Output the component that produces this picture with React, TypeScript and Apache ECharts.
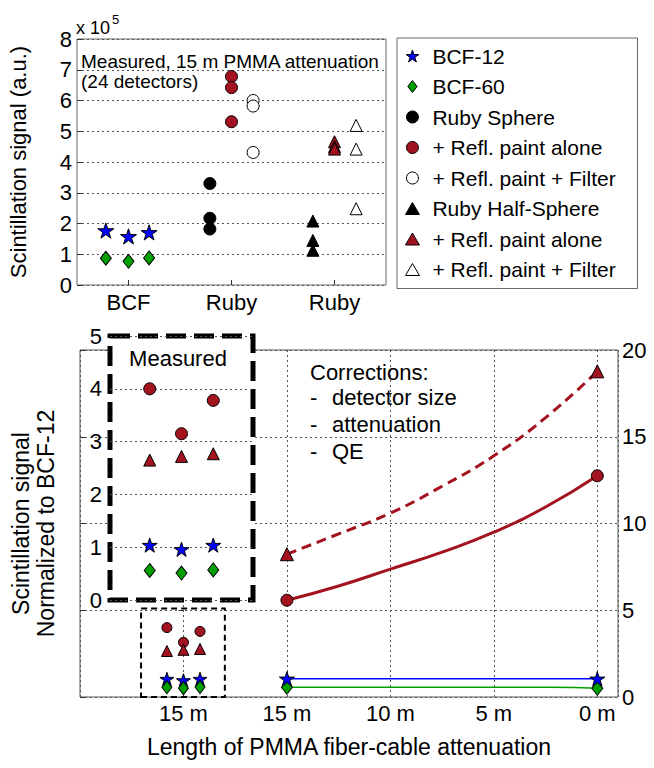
import React, { useEffect, useRef } from "react";
import * as echarts from "echarts";

const FONT = "'Liberation Sans', Arial, Helvetica, sans-serif";
const RED = "#a3121f";
const BLUE = "#0000ff";
const GREEN = "#00a000";
const GRID_LINE = { type: [2, 3], color: "#555", width: 1 };
const STAR =
  "path://M50 0 L61.23 34.55 L97.55 34.55 L68.17 55.9 L79.39 90.45 L50 69.1 L20.61 90.45 L31.83 55.9 L2.45 34.55 L38.77 34.55 Z";
const ICON_DIAMOND = "path://M5 0 L10 6.5 L5 13 L0 6.5 Z";
const ICON_CIRCLE = "path://M50 0 A50 50 0 1 1 49.99 0 Z";
const ICON_TRIANGLE = "path://M5.5 0 L11 9.5 L0 9.5 Z";

// ---------- top chart data (x 10^5) ----------
const topCategories = ["BCF", "Ruby", "Ruby"];
const topGroupPos = [1, 2, 3];
const bcfOffsets = [-0.22, 0, 0.2];
const subOffsets = [-0.21, 0, 0.21];
const bcf12 = [1.77, 1.58, 1.71];
const bcf60 = [0.87, 0.77, 0.88];
const rubySphere = [3.3, 2.17, 1.82];
const rubySpherePaint = [6.78, 6.42, 5.31];
const rubySphereFilter = [6.0, 5.82, 4.31];
const rubyHalf = [2.08, 1.45, 1.13];
const rubyHalfPaint = [4.66, 4.5, 4.42];
const rubyHalfFilter = [5.19, 4.42, 2.48];

const legendNames = [
  "BCF-12",
  "BCF-60",
  "Ruby Sphere",
  "+ Refl. paint alone",
  "+ Refl. paint + Filter",
  "Ruby Half-Sphere",
  "+ Refl. paint alone ",
  "+ Refl. paint + Filter ",
];
const legendIcons = [STAR, ICON_DIAMOND, ICON_CIRCLE, ICON_CIRCLE, ICON_CIRCLE, ICON_TRIANGLE, ICON_TRIANGLE, ICON_TRIANGLE];

// ---------- bottom chart data (normalized to BCF-12) ----------
const bottomTickLabels = ["15 m", "15 m", "10 m", "5 m", "0 m"];
const measuredJitter = [-0.16, 0, 0.16];
const insetPos = [1, 2, 3];
const measuredSpherePaint = [4.0, 3.15, 3.78];
const measuredHalfPaint = [2.65, 2.72, 2.77];
const measuredBCF12 = [1.04, 0.96, 1.04];
const measuredBCF60 = [0.56, 0.51, 0.57];
const smallBoxX = [-0.41, 0.4];
const smallBoxTop = 5.1;

const corrLengths = [15, 12.5, 10, 7.5, 5, 2.5, 0];
const corrSpherePaint = [5.58, 6.4, 7.37, 8.35, 9.5, 10.95, 12.75];
const corrHalfPaint = [8.23, 9.4, 10.6, 12.15, 13.9, 16.1, 18.77];
const corrBCF12Len = [15, 0];
const corrBCF12 = [1.05, 1.05];
const corrBCF60Len = [15, 2.2, 0];
const corrBCF60 = [0.56, 0.56, 0.5];

const lenToPos = (L: number) => 1 + (15 - L) / 5;
const groupPts = (g: number, offs: number[], ys: number[]) => ys.map((y, i) => [g + offs[i], y]);
const lenPts = (ls: number[], ys: number[]) => ys.map((y, i) => [lenToPos(ls[i]), y]);
const endPts = (ls: number[], ys: number[]) => [
  [lenToPos(ls[0]), ys[0]],
  [lenToPos(ls[ls.length - 1]), ys[ys.length - 1]],
];

const black = { borderColor: "#000", borderWidth: 1, opacity: 1 };

function topScatter(name: string, data: number[][], symbol: string, size: any, color: string) {
  return {
    name,
    type: "scatter",
    xAxisIndex: 0,
    yAxisIndex: 0,
    symbol,
    symbolSize: size,
    symbolKeepAspect: symbol === STAR,
    itemStyle: { color, ...black },
    data,
  };
}

function mainScatter(name: string, data: number[][], symbol: string, size: any, color: string, extra: any = {}) {
  return {
    name,
    type: "scatter",
    xAxisIndex: 1,
    yAxisIndex: 1,
    symbol,
    symbolSize: size,
    symbolKeepAspect: symbol === STAR,
    itemStyle: { color, ...black },
    z: 4,
    data,
    ...extra,
  };
}

function insetScatter(name: string, data: number[][], symbol: string, size: any, color: string) {
  return {
    name,
    type: "scatter",
    xAxisIndex: 2,
    yAxisIndex: 3,
    symbol,
    symbolSize: size,
    symbolKeepAspect: symbol === STAR,
    itemStyle: { color, ...black },
    z: 6,
    data,
  };
}

function mainLine(name: string, data: number[][], color: string, width: number, type: any) {
  return {
    name,
    type: "line",
    xAxisIndex: 1,
    yAxisIndex: 1,
    smooth: true,
    symbol: "none",
    lineStyle: { color, width, type },
    z: 3,
    data,
  };
}

const txt = (text: string, x: number, y: number, fontSize: number, align = "left") => ({
  type: "text",
  x,
  y,
  z: 10,
  style: { text, fontSize, fontFamily: FONT, fill: "#000", align, verticalAlign: "middle" },
});

const option: any = {
  animation: false,
  backgroundColor: "#fff",
  textStyle: { fontFamily: FONT },
  legend: {
    data: legendNames.map((name, i) => ({ name, icon: legendIcons[i] })),
    orient: "vertical",
    left: 397,
    top: 38,
    padding: [6, 16, 7, 8],
    itemGap: 6.5,
    itemWidth: 30,
    itemHeight: 12,
    symbolKeepAspect: true,
    borderColor: "#666",
    borderWidth: 1,
    backgroundColor: "#fff",
    selectedMode: false,
    itemStyle: { borderWidth: 1, opacity: 1 },
    textStyle: { fontSize: 21, fontFamily: FONT, color: "#000", lineHeight: 24 },
  },
  grid: [
    { left: 77, top: 39, width: 309, height: 246, show: true, borderColor: "#666", borderWidth: 1, backgroundColor: "transparent" },
    { left: 76, top: 350, width: 542, height: 347, show: true, borderColor: "#555", borderWidth: 1, backgroundColor: "transparent" },
    {
      left: 110,
      top: 336,
      width: 143,
      height: 264,
      show: true,
      backgroundColor: "#fff",
      borderColor: "#000",
      borderWidth: 5,
      borderType: [20, 8],
      z: 3,
    },
  ],
  xAxis: [
    {
      gridIndex: 0,
      type: "value",
      min: 0.5,
      max: 3.5,
      axisLine: { show: false },
      splitLine: { show: false },
      axisTick: { customValues: topGroupPos, inside: true, length: 5, lineStyle: { color: "#333" } },
      axisLabel: {
        customValues: topGroupPos,
        formatter: (v: number) => topCategories[Math.round(v) - 1] ?? "",
        fontSize: 22,
        color: "#000",
        margin: 6,
      },
    },
    {
      gridIndex: 1,
      type: "value",
      min: -1,
      max: 4.2,
      interval: 1,
      axisLine: { show: false },
      axisTick: { show: false },
      splitLine: { show: true, lineStyle: GRID_LINE },
      axisLabel: {
        formatter: (v: number) => {
          const i = Math.round(v);
          return Math.abs(v - i) < 1e-6 && i >= 0 && i < bottomTickLabels.length ? bottomTickLabels[i] : "";
        },
        fontSize: 22,
        color: "#000",
        margin: 5,
      },
      name: "Length of PMMA fiber-cable attenuation",
      nameLocation: "middle",
      nameGap: 38,
      nameTextStyle: { fontSize: 23, color: "#000" },
    },
    { gridIndex: 2, type: "value", min: -0.25, max: 4.25, show: false },
  ],
  yAxis: [
    {
      gridIndex: 0,
      type: "value",
      min: 0,
      max: 8,
      interval: 1,
      axisLine: { show: false },
      axisTick: { inside: true, length: 5, lineStyle: { color: "#333" } },
      splitLine: { lineStyle: GRID_LINE },
      axisLabel: { fontSize: 22, color: "#000", margin: 5 },
      name: "Scintillation signal (a.u.)",
      nameLocation: "middle",
      nameGap: 48,
      nameTextStyle: { fontSize: 22, color: "#000" },
    },
    {
      gridIndex: 1,
      type: "value",
      position: "right",
      min: 0,
      max: 20,
      interval: 5,
      axisLine: { show: false },
      axisTick: { inside: true, length: 5, lineStyle: { color: "#333" } },
      splitLine: { lineStyle: GRID_LINE },
      axisLabel: { fontSize: 22, color: "#000", margin: 4 },
    },
    {
      gridIndex: 1,
      type: "value",
      position: "left",
      min: 0,
      max: 20,
      interval: 5,
      axisLine: { show: false },
      axisTick: { inside: true, length: 5, lineStyle: { color: "#333" } },
      splitLine: { show: false },
      axisLabel: { show: false },
      name: "Scintillation signal\nNormalized to BCF-12",
      nameLocation: "middle",
      nameGap: 22,
      nameTextStyle: { fontSize: 23, lineHeight: 25, color: "#000" },
    },
    {
      gridIndex: 2,
      type: "value",
      min: 0,
      max: 5,
      interval: 1,
      z: 4,
      axisLine: { show: false },
      axisTick: { show: false },
      splitLine: { lineStyle: GRID_LINE },
      axisLabel: { fontSize: 22, color: "#000", margin: 8 },
    },
  ],
  graphic: [
    txt("x 10", 76, 28, 18),
    txt("5", 112, 19, 13),
    txt("Measured, 15 m PMMA attenuation", 81, 61, 19),
    txt("(24 detectors)", 81, 81, 19),
    txt("Corrections:", 310, 372, 22),
    txt("-", 310, 397, 22),
    txt("detector size", 332, 397, 22),
    txt("-", 310, 424, 22),
    txt("attenuation", 332, 424, 22),
    txt("-", 310, 451, 22),
    txt("QE", 332, 451, 22),
    txt("Measured", 178, 358, 22, "center"),
  ],
  series: [
    // top chart
    topScatter(legendNames[0], groupPts(topGroupPos[0], bcfOffsets, bcf12), STAR, 16, BLUE),
    topScatter(legendNames[1], groupPts(topGroupPos[0], bcfOffsets, bcf60), "diamond", [11, 14], GREEN),
    topScatter(legendNames[2], groupPts(topGroupPos[1] + subOffsets[0], [0, 0, 0], rubySphere), "circle", 12, "#000"),
    topScatter(legendNames[3], groupPts(topGroupPos[1] + subOffsets[1], [0, 0, 0], rubySpherePaint), "circle", 12, RED),
    topScatter(legendNames[4], groupPts(topGroupPos[1] + subOffsets[2], [0, 0, 0], rubySphereFilter), "circle", 12, "#fff"),
    topScatter(legendNames[5], groupPts(topGroupPos[2] + subOffsets[0], [0, 0, 0], rubyHalf), "triangle", 12, "#000"),
    topScatter(legendNames[6], groupPts(topGroupPos[2] + subOffsets[1], [0, 0, 0], rubyHalfPaint), "triangle", 12, RED),
    topScatter(legendNames[7], groupPts(topGroupPos[2] + subOffsets[2], [0, 0, 0], rubyHalfFilter), "triangle", 12, "#fff"),

    // bottom main: measured column at 15 m
    mainScatter("m-sphere", groupPts(0, measuredJitter, measuredSpherePaint), "circle", 10, RED),
    mainScatter("m-half", groupPts(0, measuredJitter, measuredHalfPaint), "triangle", 11, RED),
    mainScatter("m-bcf12", groupPts(0, measuredJitter, measuredBCF12), STAR, 14, BLUE, {
      markArea: {
        silent: true,
        itemStyle: { color: "rgba(0,0,0,0)", borderColor: "#000", borderWidth: 2, borderType: [6, 4] },
        data: [[{ coord: [smallBoxX[0], 0] }, { coord: [smallBoxX[1], smallBoxTop] }]],
      },
    }),
    mainScatter("m-bcf60", groupPts(0, measuredJitter, measuredBCF60), "diamond", [10, 13], GREEN),

    // bottom main: corrected curves
    mainLine("c-half", lenPts(corrLengths, corrHalfPaint), RED, 3, [10, 6]),
    mainLine("c-sphere", lenPts(corrLengths, corrSpherePaint), RED, 3, "solid"),
    mainLine("c-bcf12", lenPts(corrBCF12Len, corrBCF12), BLUE, 1.5, "solid"),
    mainLine("c-bcf60", lenPts(corrBCF60Len, corrBCF60), GREEN, 1.5, "solid"),
    mainScatter("c-half-end", endPts(corrLengths, corrHalfPaint), "triangle", 13, RED),
    mainScatter("c-sphere-end", endPts(corrLengths, corrSpherePaint), "circle", 12, RED),
    mainScatter("c-bcf60-end", endPts(corrBCF60Len, corrBCF60), "diamond", [11, 14], GREEN),
    mainScatter("c-bcf12-end", endPts(corrBCF12Len, corrBCF12), STAR, 15, BLUE),

    // inset (0-5 scale)
    insetScatter("i-sphere", groupPts(0, insetPos, measuredSpherePaint), "circle", 12, RED),
    insetScatter("i-half", groupPts(0, insetPos, measuredHalfPaint), "triangle", 12, RED),
    insetScatter("i-bcf12", groupPts(0, insetPos, measuredBCF12), STAR, 15, BLUE),
    insetScatter("i-bcf60", groupPts(0, insetPos, measuredBCF60), "diamond", [11, 14], GREEN),
  ],
};

export default function App() {
  const ref = useRef<HTMLDivElement>(null);
  useEffect(() => {
    const chart = echarts.init(ref.current!, null, { renderer: "svg" });
    chart.setOption(option);
    return () => chart.dispose();
  }, []);
  return (
    <div
      ref={ref}
      style={{ position: "fixed", left: 0, top: 0, width: 654, height: 768, background: "#fff" }}
    />
  );
}
